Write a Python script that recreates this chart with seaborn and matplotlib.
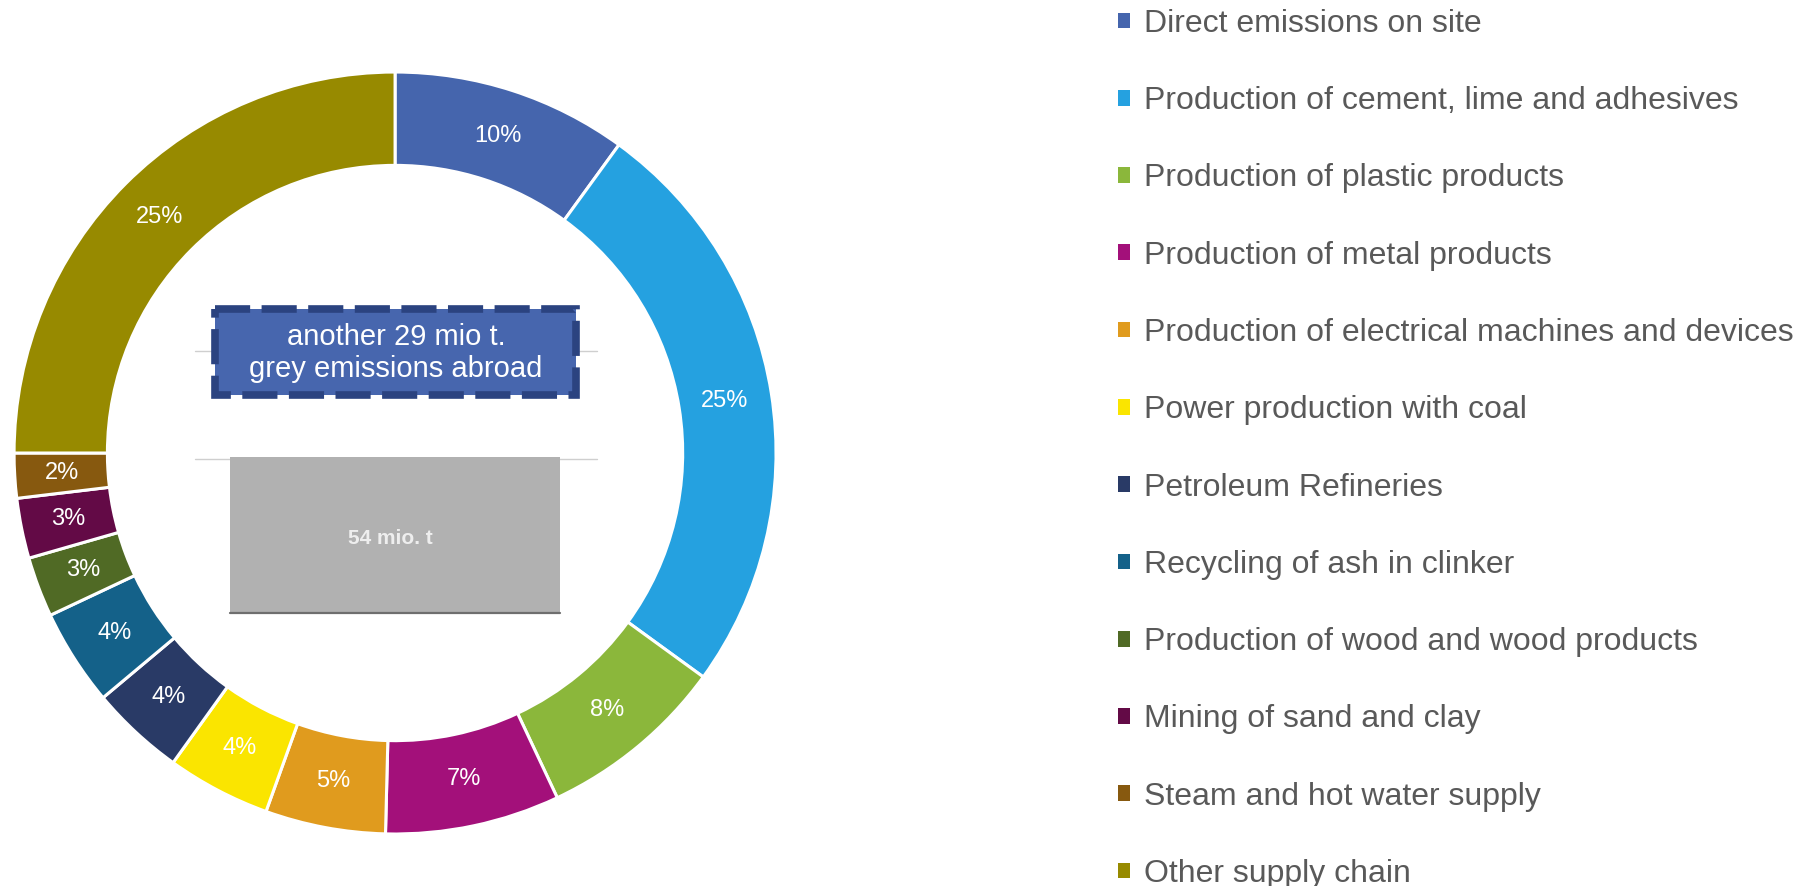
import matplotlib
matplotlib.use('Agg')
import matplotlib.pyplot as plt
from matplotlib.patches import Rectangle, Patch
import seaborn as sns

# ── data ────────────────────────────────────────────────────────────
categories = [
    'Direct emissions on site',
    'Production of cement, lime and adhesives',
    'Production of plastic products',
    'Production of metal products',
    'Production of electrical machines and devices',
    'Power production with coal',
    'Petroleum Refineries',
    'Recycling of ash in clinker',
    'Production of wood and wood products',
    'Mining of sand and clay',
    'Steam and hot water supply',
    'Other supply chain',
]
shares = [10.0, 25.0, 8.0, 7.4, 5.1, 4.4, 4.0, 4.1, 2.55, 2.55, 1.9, 25.0]
colors = ['#4565AD', '#25A1E0', '#8BB73B', '#A3107A', '#E09B1E', '#FAE500',
          '#293A66', '#146189', '#506A25', '#630A46', '#87590F', '#978A00']
abroad_note = 'another 29 mio t.\ngrey emissions abroad'
domestic_note = '54 mio. t'

# ── style ───────────────────────────────────────────────────────────
sns.set_theme(style='white')
plt.rcParams['font.family'] = ['Liberation Sans', 'DejaVu Sans']

fig = plt.figure(figsize=(17.99, 8.86), dpi=100)

# ── donut ───────────────────────────────────────────────────────────
ax = fig.add_axes([0.0078, 0.0587, 0.4236, 0.86])
wedges, texts, autotexts = ax.pie(
    shares, colors=colors, startangle=90, counterclock=False,
    autopct='%.0f%%', pctdistance=0.875,
    wedgeprops=dict(width=0.245, edgecolor='white', linewidth=2.2),
    textprops=dict(color='white', fontsize=17))
ax.set_xlim(-1, 1)
ax.set_ylim(-1, 1)
ax.set_aspect('equal')

# ── centre annotations (pixel overlay) ─────────────────────────────
ov = fig.add_axes([0, 0, 1, 1], zorder=3)
ov.set_xlim(0, 1799)
ov.set_ylim(886, 0)
ov.axis('off')
ov.patch.set_alpha(0)

ov.plot([195, 597], [351, 351], color='#CFCFCF', lw=1, zorder=1)
ov.plot([195, 597], [459, 459], color='#CFCFCF', lw=1, zorder=1)

ov.add_patch(Rectangle((215, 309), 361, 86, facecolor='#4766AE',
                       edgecolor='#2B4380', lw=5.5,
                       linestyle=(0, (4.6, 1.5)), zorder=2))
ov.text(396, 353, abroad_note, color='white', fontsize=21,
        ha='center', va='center', linespacing=1.2, zorder=3)

ov.add_patch(Rectangle((230, 457), 330, 155, facecolor='#B1B1B1',
                       edgecolor='none', zorder=2))
ov.plot([230, 560], [613, 613], color='#6E6E6E', lw=1.6, zorder=3)
ov.text(390, 538, domestic_note, color='#EEEEEE', fontsize=15,
        fontweight='bold', ha='center', va='center', zorder=3)

# ── legend ──────────────────────────────────────────────────────────
handles = [Patch(facecolor=c, edgecolor='none') for c in colors]
fig.legend(handles, categories, loc='upper left',
           bbox_to_anchor=(0.6215, 0.990), frameon=False,
           fontsize=23, labelcolor='#595959',
           handlelength=0.38, handleheight=0.38, handletextpad=0.42,
           labelspacing=1.48, borderpad=0, borderaxespad=0)

fig.savefig('out.png', dpi=100)
